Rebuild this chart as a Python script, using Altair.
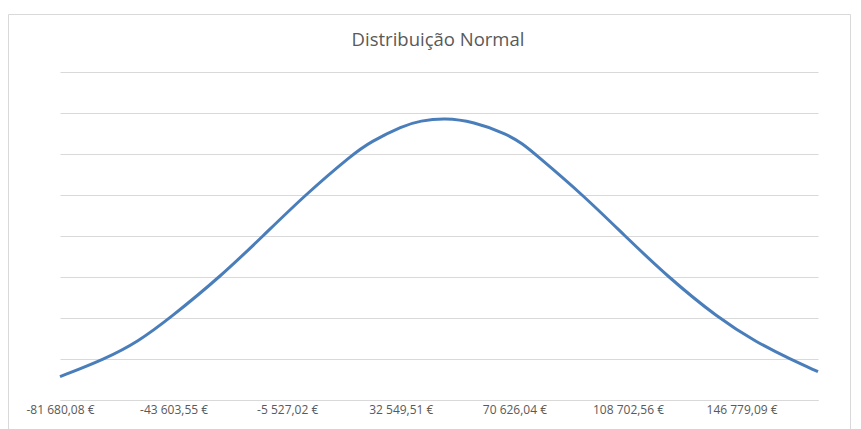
import altair as alt
import pandas as pd

# Values (x in €, density in units of 1e-6)
x_values = [-81680.08, -66597, -55536, -44810, -28051, -13638,
            437, 16528, 22226, 33287, 38985, 47364, 56749, 68145, 73508, 77531,
            93619, 107697, 122109, 138868, 151940, 163001, 172386]
density = [0.57, 1.00, 1.42, 2.00, 3.00, 4.00,
           5.00, 6.00, 6.29, 6.69, 6.81, 6.88, 6.79, 6.49, 6.24, 6.00,
           5.00, 4.00, 3.00, 2.00, 1.40, 1.00, 0.69]

tick_start = -81680.08
tick_step = 38076.53
tick_values = [tick_start + k * tick_step for k in range(7)]
tick_labels = ["-81 680,08 €", "-43 603,55 €", "-5 527,02 €", "32 549,51 €",
               "70 626,04 €", "108 702,56 €", "146 779,09 €"]
grid_values = [0, 1, 2, 3, 4, 5, 6, 7, 8]
title_text = "Distribuição Normal"

df = pd.DataFrame({"x": x_values, "y": density})

W, H = 758, 328

labels_js = "[" + ",".join("'" + s + "'" for s in tick_labels) + "]"
label_expr = f"{labels_js}[round((datum.value - ({tick_start})) / {tick_step})]"

line = alt.Chart(df).mark_line(
    color="#4A7EBB", strokeWidth=3, interpolate="basis"
).encode(
    x=alt.X("x:Q",
            scale=alt.Scale(domain=[x_values[0], x_values[-1]], nice=False, zero=False),
            axis=alt.Axis(values=tick_values, labelExpr=label_expr, title=None,
                          grid=False, ticks=False, domain=True, domainColor="#d9d9d9",
                          domainWidth=1, labelFlush=False, labelOverlap=False,
                          labelFont="Open Sans", labelFontSize=12, labelColor="#595959",
                          labelPadding=4)),
    y=alt.Y("y:Q",
            scale=alt.Scale(domain=[0, 8], nice=False),
            axis=alt.Axis(values=grid_values, labels=False, ticks=False, domain=False,
                          title=None, grid=True, gridColor="#d9d9d9", gridWidth=1)),
)

border = alt.Chart(alt.Data(values=[{}])).mark_rect(
    fill=None, stroke="#d9d9d9", strokeWidth=1
).encode(
    x=alt.value(-51.5), x2=alt.value(W + 32.5),
    y=alt.value(-57.5), y2=alt.value(H + 60)
)

title = alt.Chart(alt.Data(values=[{"t": title_text}])).mark_text(
    font="Open Sans", fontSize=18.5, color="#595959", align="center", baseline="middle"
).encode(
    text="t:N", x=alt.value(W / 2 - 1), y=alt.value(-32)
)

chart = alt.layer(border, line, title).properties(
    width=W, height=H,
    background="white",
    autosize=alt.AutoSizeParams(type="none"),
    padding={"left": 52, "top": 64, "right": 35, "bottom": 29},
).configure_view(stroke="transparent", strokeWidth=0)

chart.save("out.html", embed_options={"renderer": "svg", "actions": False})
